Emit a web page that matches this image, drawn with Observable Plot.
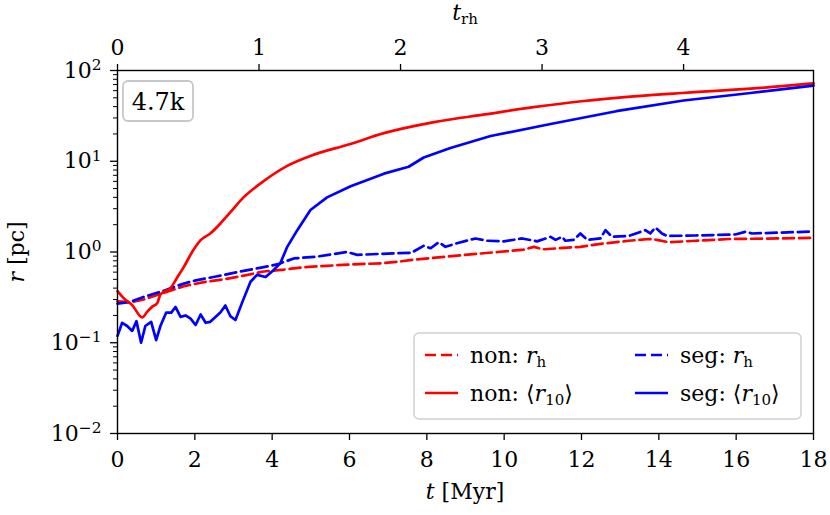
<!DOCTYPE html>
<html>
<head>
<meta charset="utf-8">
<script src="https://cdn.jsdelivr.net/npm/d3@7"></script>
<script src="https://cdn.jsdelivr.net/npm/@observablehq/plot@0.6"></script>
<style>
  html, body { margin: 0; padding: 0; background: #fff; }
  #chart svg { display: block; }
</style>
</head>
<body>
<div id="chart"></div>
<script>
// ---- data (t in Myr, r in pc) ----
const nonRh = [
  [0, 0.285], [0.34, 0.28], [0.68, 0.30], [1.2, 0.355], [1.72, 0.42], [2.23, 0.465],
  [2.75, 0.50], [3.27, 0.55], [3.78, 0.61], [4.3, 0.64], [4.82, 0.68], [6.03, 0.73],
  [6.8, 0.75], [7.23, 0.78], [7.75, 0.83], [8.52, 0.89], [9.82, 1.0], [10.5, 1.06],
  [10.77, 1.14], [11.0, 1.07], [11.97, 1.14], [12.49, 1.23], [13.22, 1.33], [13.74, 1.39],
  [13.95, 1.36], [14.26, 1.28], [14.95, 1.33], [15.81, 1.39], [17.1, 1.41], [18, 1.43]
];
const nonR10 = [
  [0, 0.37], [0.16, 0.31], [0.38, 0.26], [0.64, 0.19], [0.77, 0.22], [0.9, 0.25],
  [1.03, 0.275], [1.11, 0.34], [1.24, 0.37], [1.37, 0.40], [1.54, 0.52], [1.72, 0.69],
  [1.93, 1.0], [2.15, 1.35], [2.4, 1.6], [2.66, 2.06], [2.92, 2.75], [3.26, 4.0],
  [3.7, 5.7], [4.39, 8.9], [5.0, 11.5], [6.0, 15.4], [6.89, 20.4], [8.19, 27], [9.5, 32.8],
  [10.76, 39.4], [12.0, 45.8], [13.35, 51.8], [14.6, 56.5], [16.37, 63], [18, 72]
];
const segRh = [
  [0, 0.27], [0.3, 0.28], [0.68, 0.32], [1.2, 0.375], [1.72, 0.45], [2.06, 0.49],
  [2.58, 0.54], [3.1, 0.60], [3.61, 0.66], [4.13, 0.73], [4.56, 0.85], [5.16, 0.89],
  [5.94, 1.0], [6.2, 0.93], [7.23, 0.97], [7.6, 0.98], [7.92, 1.17], [8.1, 1.1],
  [8.31, 1.28], [8.48, 1.14], [8.78, 1.25], [9.26, 1.41], [9.56, 1.33], [9.99, 1.31],
  [10.47, 1.41], [10.85, 1.31], [11.03, 1.39], [11.2, 1.47], [11.33, 1.36], [11.5, 1.47],
  [11.58, 1.33], [11.8, 1.36], [11.97, 1.6], [12.15, 1.36], [12.49, 1.41], [12.62, 1.74],
  [12.79, 1.47], [13.22, 1.5], [13.65, 1.74], [13.78, 1.6], [13.91, 1.86], [14.08, 1.6],
  [14.21, 1.5], [14.95, 1.52], [15.98, 1.56], [16.24, 1.67], [16.41, 1.6], [18, 1.68]
];
const segR10 = [
  [0, 0.119], [0.12, 0.166], [0.25, 0.153], [0.38, 0.135], [0.49, 0.173], [0.61, 0.10],
  [0.72, 0.153], [0.87, 0.17], [1.0, 0.107], [1.11, 0.153], [1.26, 0.215], [1.39, 0.215],
  [1.5, 0.248], [1.63, 0.193], [1.76, 0.20], [1.89, 0.184], [2.02, 0.157], [2.15, 0.205],
  [2.28, 0.166], [2.4, 0.17], [2.66, 0.215], [2.79, 0.257], [2.92, 0.196], [3.05, 0.178],
  [3.22, 0.275], [3.44, 0.47], [3.61, 0.56], [3.83, 0.53], [4.04, 0.635], [4.21, 0.75],
  [4.39, 1.14], [4.65, 1.74], [4.99, 2.9], [5.42, 4.0], [6.03, 5.3], [6.89, 7.3],
  [7.53, 8.7], [7.92, 11], [8.61, 14], [9.65, 19], [11.2, 25.7], [12.9, 35.6],
  [14.64, 46.7], [16.37, 56.5], [18, 68]
];
const xTicks = [0, 2, 4, 6, 8, 10, 12, 14, 16, 18];
const yTicks = [0.01, 0.1, 1, 10, 100];
const trhTicks = [0, 1, 2, 3, 4];
const TRH = 3.66; // Myr per t_rh
const boxLabel = "4.7k";

const expOf = d => Math.round(Math.log10(d));
const minorTicks = [];
for (let e = -2; e < 2; e++) for (let m = 2; m <= 9; m++) minorTicks.push(m * Math.pow(10, e));

const RED = "#ff0000", BLUE = "#0000ff";
const lw = 2.7, dash = "11,5";
const FS = 22;
const font = "DejaVu Serif";

const chart = Plot.plot({
  width: 830, height: 515,
  marginTop: 70, marginRight: 17, marginBottom: 82, marginLeft: 117,
  style: {fontFamily: font, fontSize: FS + "px", background: "white", color: "black", overflow: "visible"},
  x: {domain: [0, 18]},
  y: {type: "log", domain: [0.01, 100]},
  marks: [
    Plot.axisX({ticks: xTicks, tickSize: 7, tickPadding: 11, label: null, tickFormat: d => String(d), strokeWidth: 1.3}),
    Plot.axisX({anchor: "top", ticks: trhTicks.map(k => k * TRH), tickSize: 7, tickPadding: 9, label: null,
                tickFormat: d => String(Math.round(d / TRH)), strokeWidth: 1.3}),
    Plot.axisY({ticks: yTicks, tickSize: 7, tickPadding: 9, label: null,
                tickFormat: d => "10^" + String(expOf(d)).replace("-", "\u2212"), strokeWidth: 1.3}),
    Plot.axisY({ticks: minorTicks, tickSize: 4, label: null, tickFormat: () => "", strokeWidth: 1}),
    Plot.line(nonRh, {x: d => d[0], y: d => d[1], stroke: RED, strokeWidth: lw, strokeDasharray: dash}),
    Plot.line(segRh, {x: d => d[0], y: d => d[1], stroke: BLUE, strokeWidth: lw, strokeDasharray: dash}),
    Plot.line(nonR10, {x: d => d[0], y: d => d[1], stroke: RED, strokeWidth: lw, curve: "monotone-x"}),
    Plot.line(segR10, {x: d => d[0], y: d => d[1], stroke: BLUE, strokeWidth: lw}),
    Plot.frame({stroke: "black", strokeWidth: 1.4})
  ]
});
document.getElementById("chart").appendChild(chart);

const svg = d3.select(chart);

// superscript y tick labels
svg.selectAll("text").each(function () {
  const s = this.textContent;
  if (/^10\^/.test(s)) {
    const ex = s.slice(3);
    const el = d3.select(this);
    el.text("");
    el.append("tspan").text("10");
    el.append("tspan").attr("font-size", "0.7em").attr("dy", "-0.5em").text(ex);
  }
});

// axis labels
const xl = svg.append("text").attr("x", 465).attr("y", 499).attr("text-anchor", "middle")
  .attr("font-family", font).attr("font-size", FS);
xl.append("tspan").attr("font-style", "italic").text("t");
xl.append("tspan").text(" [Myr]");

const yl = svg.append("text").attr("transform", "translate(24,252) rotate(-90)").attr("text-anchor", "middle")
  .attr("font-family", font).attr("font-size", FS);
yl.append("tspan").attr("font-style", "italic").text("r");
yl.append("tspan").text(" [pc]");

const tl = svg.append("text").attr("x", 465).attr("y", 20).attr("text-anchor", "middle")
  .attr("font-family", font).attr("font-size", FS);
tl.append("tspan").attr("font-style", "italic").text("t");
tl.append("tspan").attr("font-size", 15).attr("dy", 4).text("rh");

// label box
svg.append("rect").attr("x", 123).attr("y", 81).attr("width", 70).attr("height", 40).attr("rx", 5)
  .attr("fill", "white").attr("stroke", "#c8c8c8").attr("stroke-width", 1.8);
svg.append("text").attr("x", 158).attr("y", 110).attr("text-anchor", "middle")
  .attr("font-family", font).attr("font-size", 24).text(boxLabel);

// legend
const lg = svg.append("g");
lg.append("rect").attr("x", 414).attr("y", 333).attr("width", 387).attr("height", 86).attr("rx", 5)
  .attr("fill", "white").attr("fill-opacity", 0.85).attr("stroke", "#d0d0d0").attr("stroke-width", 1.5);
const entries = [
  {x: 425, y: 355, color: RED, dashed: true, prefix: "non: ", kind: "rh"},
  {x: 635, y: 355, color: BLUE, dashed: true, prefix: "seg: ", kind: "rh"},
  {x: 425, y: 393, color: RED, dashed: false, prefix: "non: ", kind: "r10"},
  {x: 635, y: 393, color: BLUE, dashed: false, prefix: "seg: ", kind: "r10"}
];
for (const e of entries) {
  lg.append("line").attr("x1", e.x).attr("x2", e.x + 33).attr("y1", e.y).attr("y2", e.y)
    .attr("stroke", e.color).attr("stroke-width", lw).attr("stroke-dasharray", e.dashed ? dash : null);
  const t = lg.append("text").attr("x", e.x + 45).attr("y", e.y + 8).attr("text-anchor", "start")
    .attr("font-family", font).attr("font-size", FS);
  t.append("tspan").text(e.prefix);
  if (e.kind === "rh") {
    t.append("tspan").attr("font-style", "italic").text("r");
    t.append("tspan").attr("font-size", 15).attr("dy", 4).text("h");
  } else {
    t.append("tspan").text("\u27E8");
    t.append("tspan").attr("font-style", "italic").text("r");
    t.append("tspan").attr("font-size", 15).attr("dy", 4).text("10");
    t.append("tspan").attr("dy", -4).text("\u27E9");
  }
}
</script>
</body>
</html>
